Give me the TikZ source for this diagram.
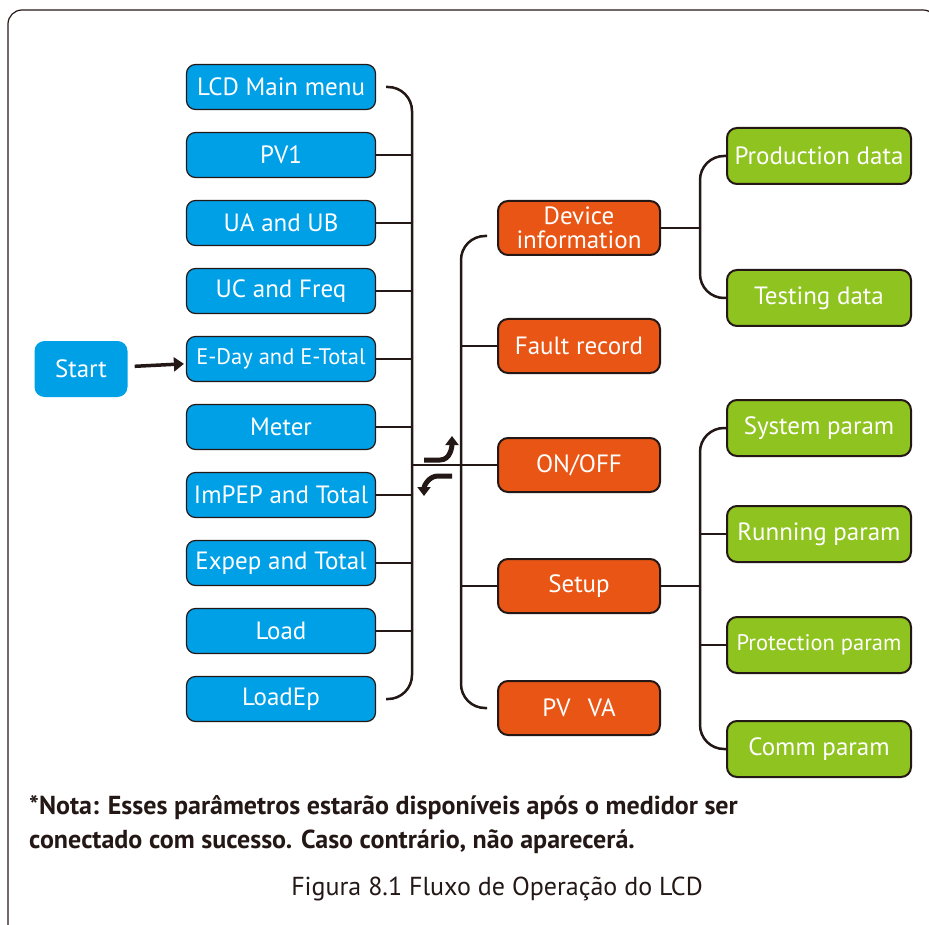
\documentclass[tikz,border=0pt]{standalone}
\usepackage{fontspec}
\setmainfont{PT Sans}
\usetikzlibrary{arrows.meta, calc, positioning}

\definecolor{lcdblue}{HTML}{00A0E6}
\definecolor{lcdorange}{HTML}{E95514}
\definecolor{lcdgreen}{HTML}{8FC31F}
\definecolor{lcdline}{HTML}{231815}

\begin{document}
\begin{tikzpicture}[x=1pt, y=-1pt, font=\fontsize{25}{27}\selectfont,
    bluebox/.style={draw=lcdline, line width=1.2pt, fill=lcdblue, text=white, rounded corners=9pt, minimum width=189pt, minimum height=45pt, inner sep=1pt},
    orangebox/.style={draw=lcdline, line width=2pt, fill=lcdorange, text=white, rounded corners=10pt, minimum width=162pt, minimum height=54pt, inner sep=1pt, align=center},
    greenbox/.style={draw=lcdline, line width=2pt, fill=lcdgreen, text=white, rounded corners=10pt, minimum width=184pt, minimum height=56pt, inner sep=1pt},
    link/.style={draw=lcdline, line width=2.5pt},
    bus/.style={link, rounded corners=24pt},
    turn/.style={draw=lcdline, line width=5pt, -{Triangle[length=9pt, width=13pt]}}]
    \useasboundingbox (0,0) rectangle (929,925);
    \begin{scope}
        \clip (0,0) rectangle (929,925);
        \draw[lcdline, line width=1.2pt, rounded corners=14pt] (8,940) -- (8,10) -- (937,10) -- (937,940);
    \end{scope}

    % left column
    \foreach \name/\txt [count=\i] in {lcd/LCD Main menu, pv1/PV1, uaub/UA and UB, ucfreq/UC and Freq, eday/{\fontsize{22.5}{24}\selectfont E-Day and E-Total}, meter/Meter, impep/ImPEP and Total, expep/Expep and Total, load/Load, loadep/LoadEp}
        \node[bluebox] (\name) at (281,{87+68*(\i-1)}) {\txt};
    \node[fill=lcdblue, text=white, rounded corners=10pt, minimum width=93pt, minimum height=56pt] (start) at (81,369) {Start};
    \draw[line width=3.5pt, lcdline, -{Triangle[length=10pt, width=14pt]}, shorten <=7pt, shorten >=2pt] (start) -- (eday);

    \coordinate (busL) at (412,0);
    \coordinate (busM) at (461,0);
    \coordinate (busR) at (700,0);
    \draw[bus] ($(lcd.east)+(10,0)$) -- (lcd.east -| busL) -- (loadep.east -| busL) -- ($(loadep.east)+(10,0)$);
    \foreach \name in {pv1, uaub, ucfreq, eday, meter, impep, expep, load}
        \draw[link] (\name.east) -- (\name.east -| busL);

    % middle column
    \node[orangebox] (devinfo) at (579,228) {Device\\[-3pt]information};
    \node[orangebox] (fault) at (579,346) {Fault record};
    \node[orangebox] (onoff) at (579,465) {ON/OFF};
    \node[orangebox] (setup) at (579,586) {Setup};
    \node[orangebox] (pvva) at (579,708) {PV\hspace{0.7em}VA};

    \draw[link] (onoff.west -| busL) -- (onoff.west);
    \draw[bus] ($(devinfo.west)+(-10,8)$) -- ($(devinfo.west -| busM)+(0,8)$) -- (pvva.west -| busM) -- ($(pvva.west)+(-10,0)$);
    \foreach \name in {fault, setup}
        \draw[link] (\name.west -| busM) -- (\name.west);
    \draw[turn] (424,460) -- (440,460) to[out=0, in=-90] (452,436);
    \draw[turn] (452,476) -- (438,476) to[out=180, in=90] (424,496);

    % right column
    \node[greenbox] (prod) at (819,156) {Production data};
    \node[greenbox] (test) at (819,298) {Testing data};
    \node[greenbox] (sysp) at (819,428) {System param};
    \node[greenbox] (runp) at (819,534) {Running param};
    \node[greenbox, font=\fontsize{22.5}{24}\selectfont] (protp) at (819,645) {Protection param};
    \node[greenbox] (commp) at (819,749) {Comm param};

    \draw[link] (devinfo.east) -- (devinfo.east -| busR);
    \draw[bus] (prod.west) -- (prod.west -| busR) -- (test.west -| busR) -- (test.west);
    \draw[link] (setup.east) -- (setup.east -| busR);
    \draw[bus] (sysp.west) -- (sysp.west -| busR) -- (commp.west -| busR) -- (commp.west);
    \foreach \name in {runp, protp}
        \draw[link] (\name.west -| busR) -- (\name.west);

    % note and caption
    \node[anchor=west, inner sep=0pt, font=\fontsize{26}{28}\selectfont\bfseries, text=lcdline] (note1) at (29,808) {*Nota: Esses parâmetros estarão disponíveis após o medidor ser};
    \node[anchor=west, inner sep=0pt, font=\fontsize{26}{28}\selectfont\bfseries, text=lcdline] (note2) at (29,842) {conectado com sucesso. Caso contrário, não aparecerá.};
    \node[inner sep=0pt, text=lcdline, font=\fontsize{26}{28}\selectfont] (caption) at (497,889) {Figura 8.1 Fluxo de Operação do LCD};
\end{tikzpicture}
\end{document}
